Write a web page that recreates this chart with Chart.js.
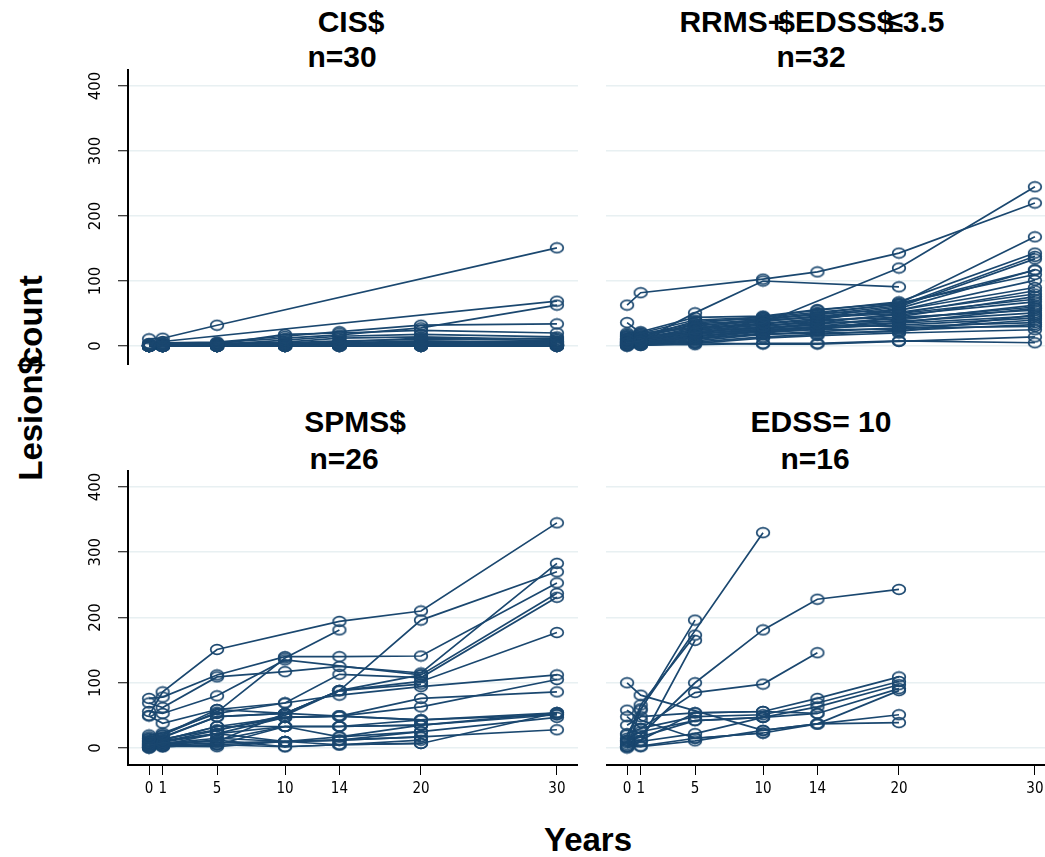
<!DOCTYPE html>
<html><head><meta charset="utf-8">
<script src="https://cdn.jsdelivr.net/npm/chart.js@4.4.0/dist/chart.umd.min.js"></script>
<style>
html,body{margin:0;padding:0;background:#fff;width:1045px;height:857px;overflow:hidden;position:relative}
canvas{position:absolute}
.t{position:absolute;transform:translate(-50%,-50%);font-family:'Liberation Sans',Arial,sans-serif;font-weight:bold;font-size:30px;line-height:1;white-space:nowrap;color:#000}
.ax{font-size:33px}
</style></head><body>
<div class="t" style="left:351px;top:22px">CIS$</div>
<div class="t" style="left:342px;top:57px">n=30</div>
<div class="t" style="left:812px;top:22px">RRMS+<span style="margin-left:-7px">$</span>EDSS$<span style="margin-left:-7px">≤</span>3.5</div>
<div class="t" style="left:811px;top:57px">n=32</div>
<div class="t" style="left:355px;top:422px">SPMS$</div>
<div class="t" style="left:344px;top:459px">n=26</div>
<div class="t" style="left:821px;top:422px">EDSS= 10</div>
<div class="t" style="left:815px;top:459px">n=16</div>
<div class="t ax" style="left:588px;top:839px">Years</div>
<div class="t ax" style="left:30px;top:378px;transform:translate(-50%,-50%) rotate(-90deg)">Lesion<span style="margin-right:-9px">$</span>count</div>

<canvas id="c1" width="518" height="296" style="left:60px;top:69px"></canvas>
<canvas id="c2" width="450" height="296" style="left:606px;top:69px"></canvas>
<canvas id="c3" width="518" height="335" style="left:60px;top:470px"></canvas>
<canvas id="c4" width="450" height="335" style="left:606px;top:470px"></canvas>

<script>
const years = [0, 1, 5, 10, 14, 20, 30];
const yTicks = [0, 100, 200, 300, 400];

// CIS, n=30 (values at years 0,1,5,10,14,20,30; null = not observed)
const cisCounts = [
  [11, 12, 32, null, null, null, 151],
  [4, 7, null, null, null, null, 69],
  [2, 4, 5, 12, 17, 28, 63],
  [3, 5, 6, 15, 22, 32, 34],
  [1, 2, 3, 18, 20, 24, 20],
  [0, 1, 2, 9, 15, 18, 14],
  [1, 2, 4, 6, 12, 14, 10],
  [0, 0, 1, 4, 6, 12, 8],
  [0, 1, 1, 3, 5, 8, 6],
  [0, 0, 0, 2, 4, 6, 5],
  [0, 0, 1, 1, 3, 4, 4],
  [0, 0, 0, 1, 2, 3, 3],
  [2, 3, 3, 5, 8, 10, 12],
  [0, 0, 0, 0, 1, 2, 2],
  [0, 0, 0, 0, 0, 1, 1],
  [1, 1, 2, 2, 3, 3, 3],
  [0, 0, 0, 0, 0, 0, 0],
  [0, 0, 0, 1, 1, 1, 2],
  [3, 2, 2, 3, 4, 5, 6],
  [0, 1, 1, 1, 2, 2, 1],
  [0, 0, 0, 0, 0, 0, 1],
  [1, 1, 1, 2, 2, 2, 2],
  [0, 0, 1, 0, 1, 1, 0],
  [2, 2, 3, 4, 5, 6, 7],
  [0, 0, 0, 0, 0, 0, 0],
  [0, 1, 0, 1, 1, 1, 1],
  [0, 0, 0, 0, 1, 0, 0],
  [1, 0, 0, 0, 0, 0, 0],
  [0, 0, 0, 1, 0, 0, 0],
  [0, 0, 1, 1, 1, 2, 2]
];

// RRMS + EDSS <= 3.5, n=32
const rrmsCounts = [
  [63, 82, null, 103, 114, 143, 220],
  [5, 8, 51, 100, null, 91, null],
  [10, 12, 20, 35, null, 120, 245],
  [36, 20, 28, 40, 50, 65, 168],
  [15, 18, 35, 45, 55, 68, 143],
  [12, 15, 30, 42, 48, 62, 138],
  [8, 10, 25, 38, 45, 60, 134],
  [18, 20, 40, 44, 52, 64, 117],
  [6, 8, 22, 30, 40, 58, 117],
  [10, 12, 28, 35, 42, 55, 101],
  [4, 6, 18, 28, 35, 50, 85],
  [14, 16, 32, 38, 46, 52, 80],
  [3, 5, 15, 25, 30, 45, 76],
  [8, 10, 20, 30, 38, 48, 68],
  [2, 4, 12, 22, 28, 40, 63],
  [6, 7, 18, 26, 34, 42, 60],
  [12, 14, 24, 32, 36, 38, 51],
  [1, 3, 10, 20, 26, 35, 46],
  [4, 5, 14, 24, 28, 32, 43],
  [9, 11, 22, 28, 32, 30, 36],
  [2, 3, 8, 18, 22, 28, 30],
  [0, 1, 5, 3, 3, 7, 14],
  [1, 2, 2, 4, 4, 8, 5],
  [5, 6, 16, 22, 25, 26, 40],
  [3, 4, 12, 18, 20, 22, 48],
  [7, 9, 26, 34, 40, 44, 55],
  [11, 13, 34, 40, 44, 50, 72],
  [0, 2, 6, 14, 18, 24, 33],
  [16, 14, 38, 42, 50, 55, 90],
  [2, 1, 4, 12, 16, 20, 25],
  [20, 22, 44, 46, 56, 66, 110],
  [6, 8, 20, 24, 30, 36, 58]
];

// SPMS, n=26
const spmsCounts = [
  [50, 86, 151, null, 194, 210, 345],
  [76, 78, 112, 140, 140, 141, 253],
  [69, 62, 109, 117, 125, 115, 283],
  [56, 53, 80, 135, null, 112, 237],
  [49, 38, 59, 69, 113, 108, 231],
  [15, 20, 55, 138, 181, null, null],
  [5, 8, 10, 53, 88, 196, 270],
  [12, 17, 48, 53, 88, 102, 177],
  [20, 23, 53, 69, 81, 94, 112],
  [8, 12, 33, 47, 49, 63, 105],
  [3, 5, 22, 47, 49, 76, 86],
  [10, 12, 33, 33, 33, 43, 54],
  [2, 4, 12, 33, 17, 35, 51],
  [6, 9, 22, 10, 17, 25, 47],
  [1, 2, 5, 10, 12, 17, 28],
  [4, 6, 12, 2, 5, 7, 54],
  [14, 16, 48, 53, 49, 43, 51],
  [0, 3, 2, 10, 12, 25, null],
  [17, 20, 59, 53, 88, 112, null],
  [9, 11, 22, 33, 33, 35, 54],
  [7, 10, 27, 50, 88, 98, null],
  [2, 4, 8, 10, 12, 17, null],
  [11, 14, 28, 47, 49, 43, null],
  [0, 2, 5, 33, 33, 35, null],
  [5, 7, 15, 10, 5, 7, null],
  [1, 3, 5, 2, 5, 12, null]
];

// EDSS = 10, n=16
const edss10Counts = [
  [20, 60, null, 330, null, null, null],
  [100, 81, null, 27, 37, 51, null],
  [10, 20, 100, 181, 228, 243, null],
  [2, 58, 196, null, null, null, null],
  [12, 66, 173, null, null, null, null],
  [0, 10, 165, null, null, null, null],
  [22, 30, 85, 98, 146, null, null],
  [35, 48, 54, 56, 76, 109, null],
  [48, 30, 48, 51, 69, 102, null],
  [12, 17, 42, 47, 63, 97, null],
  [2, 10, 22, 47, 53, 91, null],
  [58, 43, 15, 23, 37, 88, null],
  [2, 2, 11, 27, 37, 39, null],
  [5, 3, 15, 23, null, null, null],
  [8, 12, 54, 56, 53, null, null],
  [15, 25, 42, 47, null, null, null]
];

const NAVY = '#1a476f';
function makeMarker() {
  const c = document.createElement('canvas');
  c.width = 16; c.height = 13;
  const g = c.getContext('2d');
  g.strokeStyle = NAVY; g.lineWidth = 1.7;
  g.beginPath(); g.ellipse(8, 6.5, 6.3, 4.8, 0, 0, Math.PI * 2); g.stroke();
  return c;
}
const marker = makeMarker();

function build(id, subjects, showY, showX, yMin, yMax) {
  const datasets = subjects.map(s => ({
    data: years.map((x, i) => ({ x: x, y: s[i] })).filter(p => p.y !== null),
    borderColor: NAVY, borderWidth: 1.7, pointStyle: marker, pointRadius: 6,
    clip: false, tension: 0, fill: false
  }));
  new Chart(document.getElementById(id), {
    type: 'line',
    data: { datasets },
    options: {
      responsive: false, animation: false, events: [], devicePixelRatio: 1,
      layout: { padding: 0, autoPadding: false },
      plugins: { legend: { display: false }, tooltip: { enabled: false } },
      scales: {
        x: {
          type: 'linear', min: -1.55, max: 31.55, display: showX,
          afterBuildTicks: s => { s.ticks = years.map(v => ({ value: v })); },
          afterFit: s => { s.height = showX ? 40 : 0; s.paddingLeft = 0; s.paddingRight = 0; },
          grid: { display: true, drawOnChartArea: false, drawTicks: true, tickLength: 10, tickColor: '#000', tickWidth: 1 },
          border: { display: true, color: '#000', width: 2 },
          ticks: { autoSkip: false, maxRotation: 0, minRotation: 0, padding: 5, color: '#000',
                   font: { family: "'Liberation Sans Narrow','DejaVu Sans Condensed',sans-serif", size: 15 } }
        },
        y: {
          type: 'linear', min: yMin, max: yMax, display: true,
          afterBuildTicks: s => { s.ticks = yTicks.map(v => ({ value: v })); },
          afterFit: s => { s.width = showY ? 68 : 0; s.paddingTop = 0; s.paddingBottom = 0; },
          grid: { color: '#e8f0f2', lineWidth: 1.5, drawTicks: showY, tickLength: 10, tickColor: '#000', tickWidth: 1 },
          border: { display: showY, color: '#000', width: 2 },
          ticks: { display: showY, minRotation: 90, maxRotation: 90, crossAlign: 'center', padding: 8, color: '#000',
                   font: { family: "'DejaVu Sans',sans-serif", size: 15 } }
        }
      }
    }
  });
}

build('c1', cisCounts, true, false, -29.2, 426.2);
build('c2', rrmsCounts, false, false, -29.2, 426.2);
build('c3', spmsCounts, true, true, -26, 426);
build('c4', edss10Counts, false, true, -26, 426);
</script>
</body></html>
